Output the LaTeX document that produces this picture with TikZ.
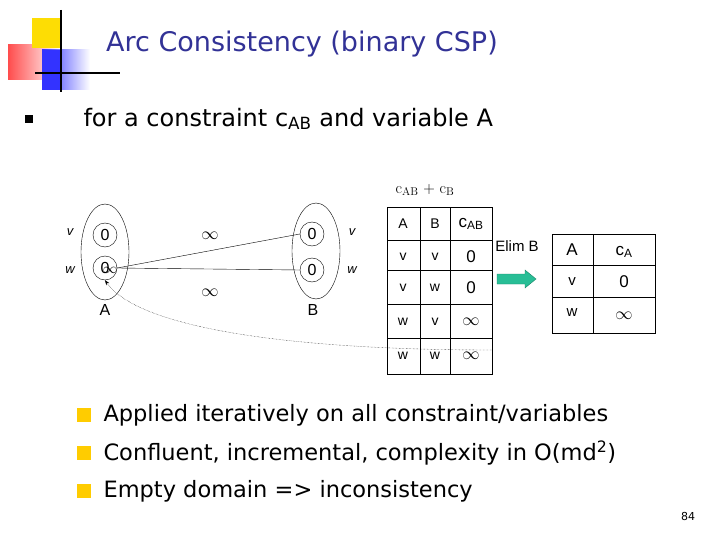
\documentclass[tikz,border=0pt]{standalone}
\usepackage{fontspec}
\setmainfont{DejaVu Sans}
\newfontfamily\lmr{Latin Modern Roman}
\newfontfamily\arl{Liberation Sans}
\usetikzlibrary{arrows.meta}
\definecolor{ttl}{RGB}{50,50,150}
\definecolor{teal}{RGB}{40,190,150}
\definecolor{bul}{RGB}{255,204,0}
\tikzset{cell/.style={font=\arl\fontsize{15}{17}\selectfont},
 dom/.style={circle,draw,minimum size=24pt,inner sep=0pt,font=\arl\fontsize{16}{16}\selectfont}}
\begin{document}
\begin{tikzpicture}[x=1pt,y=-1pt]
\useasboundingbox (0,0) rectangle (720,540);
% logo
\shade[left color=red!70, right color=white] (8,45) rectangle (60,80);
\fill[yellow!80!orange] (32,18) rectangle (62,48);
\shade[left color=blue!80, right color=white] (42,50) rectangle (90,90);
\fill[blue!80] (42,50) rectangle (62,90);
\draw[line width=1.3pt] (61,10) -- (61,92);
\draw[line width=1.3pt] (35,73) -- (120,73);
\node[font=\fontsize{27}{30}\selectfont,text=ttl] (title) at (302,44) {Arc Consistency (binary CSP)};
\fill (25,115) rectangle (33,123);
\node[anchor=west,font=\fontsize{24}{28}\selectfont] (b0) at (80,119) {for a constraint c\textsubscript{AB} and variable A};
% graph
\draw (105,252) ellipse (24 and 48);
\draw (316,251) ellipse (24 and 48);
\node[dom] (a1) at (105,235) {0};
\node[dom] (a2) at (105,268) {0};
\node[font=\lmr\fontsize{14}{14}\selectfont] at (110,270) {$\infty$};
\node[dom] (b1) at (312,234) {0};
\node[dom] (b2) at (312,270) {0};
\node[font=\arl\itshape\fontsize{13}{13}\selectfont] (av) at (70,232) {v};
\node[font=\arl\itshape\fontsize{13}{13}\selectfont] (aw) at (70,270) {w};
\node[font=\arl\itshape\fontsize{13}{13}\selectfont] (bv) at (352,232) {v};
\node[font=\arl\itshape\fontsize{13}{13}\selectfont] (bw) at (352,270) {w};
\node[font=\arl\fontsize{16}{16}\selectfont] (la) at (105,310) {A};
\node[font=\arl\fontsize{16}{16}\selectfont] (lb) at (313,310) {B};
\node[font=\lmr\fontsize{17}{17}\selectfont] (i1) at (210,236) {$\infty$};
\node[font=\lmr\fontsize{17}{17}\selectfont] (i2) at (210,293) {$\infty$};
\draw (a2.east) -- (b1.west);
\draw (a2.east) -- (b2.west);
% table 1
\node[font=\lmr\fontsize{16}{16}\selectfont] (tt) at (425,190) {c\textsubscript{AB} + c\textsubscript{B}};
\draw[line width=1pt] (387,208) rectangle (492,374);
\foreach \y in {240,270,304,338} \draw (387,\y) -- (492,\y);
\draw (420,208) -- (420,374); \draw (450,208) -- (450,374);
\foreach \a/\b/\c/\y in {A/B/{c\textsubscript{AB}}/224, v/v/0/257, v/w/0/288, w/v/{\lmr$\infty$}/322, w/w/{\lmr$\infty$}/356}
 {\node[cell,font=\arl\fontsize{14}{14}\selectfont] at (403,\y) {\a}; \node[cell,font=\arl\fontsize{14}{14}\selectfont] at (435,\y) {\b}; \node[cell,font=\arl\fontsize{17}{17}\selectfont] at (471,\y) {\c};}
\coordinate (t1) at (492,350);
\node[cell] (elim) at (517,246) {Elim B};
\draw[fill=teal,draw=teal!70!black] (497,274) -- (525,274) -- (525,270) -- (536,279) -- (525,288) -- (525,284) -- (497,284) -- cycle;
% table 2
\draw[line width=1pt] (552,234) rectangle (655,333);
\draw (552,265) -- (655,265); \draw (552,297) -- (655,297); \draw (593,234) -- (593,333);
\node[cell,font=\arl\fontsize{17}{17}\selectfont] at (572,250) {A};
\node[cell,font=\arl\fontsize{17}{17}\selectfont] at (624,252) {c\textsubscript{A}};
\node[cell] at (572,282) {v};
\node[cell,font=\arl\fontsize{17}{17}\selectfont] at (624,282) {0};
\node[cell] at (572,313) {w};
\node[cell,font=\lmr\fontsize{17}{17}\selectfont] at (624,316) {$\infty$};
% dotted
\draw[densely dotted,-{Stealth[length=5pt]}] (t1) .. controls (300,350) and (140,330) .. (a2.south);
% bullets
\foreach \y/\t in {415/{Applied iteratively on all constraint/variables},453/{Confluent, incremental, complexity in O(md\textsuperscript{2})},491/{Empty domain => inconsistency}}
 {\fill[bul] (77,\y-7) rectangle (91,\y+7); \node[anchor=west,font=\fontsize{22.5}{26}\selectfont] at (100,\y) {\t};}
\node[font=\fontsize{11}{12}\selectfont] (pg) at (688,516) {84};
\end{tikzpicture}
\end{document}
